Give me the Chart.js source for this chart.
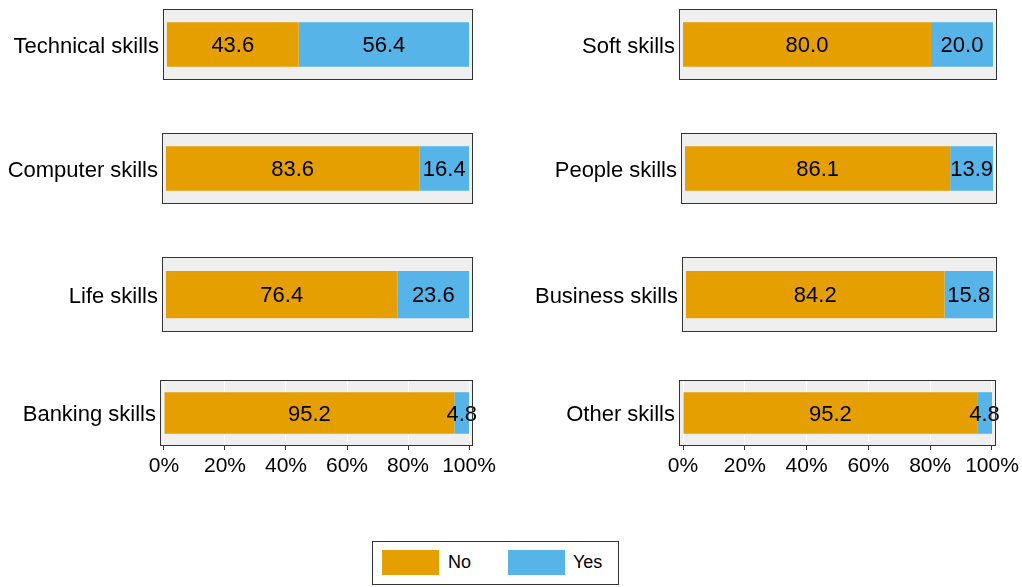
<!DOCTYPE html>
<html><head><meta charset="utf-8">
<script src="https://cdn.jsdelivr.net/npm/chart.js@4.4.1/dist/chart.umd.min.js"></script>
<style>
html,body{margin:0;padding:0;background:#fff}
body{width:1022px;height:587px;position:relative;overflow:hidden;font-family:"Liberation Sans",Arial,Helvetica,sans-serif}
canvas{position:absolute}
#legend{position:absolute;left:372px;top:541px;width:245px;height:42px;border:1px solid #333;box-sizing:content-box}
.sw{position:absolute;top:8px;width:57px;height:25px}
.lt{position:absolute;top:8px;height:25px;line-height:25px;font-size:18px;color:#000}
</style></head><body>
<div id="legend">
  <div class="sw" style="left:9px;background:#E69F00"></div><div class="lt" style="left:75px">No</div>
  <div class="sw" style="left:135px;background:#56B4E9"></div><div class="lt" style="left:200px">Yes</div>
</div>
<script>
// ---- data ----
const categories = ['Technical skills','Computer skills','Life skills','Banking skills','Soft skills','People skills','Business skills','Other skills'];
const noValues  = [43.6, 83.6, 76.4, 95.2, 80.0, 86.1, 84.2, 95.2];
const yesValues = [56.4, 16.4, 23.6,  4.8, 20.0, 13.9, 15.8,  4.8];
const seriesNames = ['No', 'Yes'];
const xTickValues = [0, 20, 40, 60, 80, 100];
const xTickLabels = ['0%', '20%', '40%', '60%', '80%', '100%'];

// ---- layout ----
const colors = ['#E69F00', '#56B4E9'];
const colLeft = [0, 500];
const panels = [
  {col:0, l:163, t:9,   r:473, b:80},
  {col:0, l:162, t:133, r:473, b:204},
  {col:0, l:162, t:257, r:473, b:332},
  {col:0, l:160, t:380, r:473, b:446, axis:true},
  {col:1, l:679, t:9,   r:997, b:80},
  {col:1, l:681, t:133, r:997, b:204},
  {col:1, l:682, t:257, r:997, b:332},
  {col:1, l:679, t:380, r:996, b:446, axis:true}
];
const FONT = '"Liberation Sans", Arial, Helvetica, sans-serif';
Chart.defaults.font.family = FONT;
Chart.defaults.color = '#000';

const panelPlugin = {
  id: 'panel',
  beforeDraw(chart) {
    const a = chart.chartArea, c = chart.ctx;
    c.save(); c.fillStyle = '#EFEFEF';
    c.fillRect(a.left, a.top, a.right - a.left, a.bottom - a.top);
    c.restore();
  },
  afterDatasetsDraw(chart) {
    const c = chart.ctx;
    c.save();
    c.font = '22px ' + FONT; c.fillStyle = '#000';
    c.textAlign = 'center'; c.textBaseline = 'middle';
    chart.data.datasets.forEach((ds, di) => {
      chart.getDatasetMeta(di).data.forEach((el, i) => {
        c.fillText(ds.data[i].toFixed(1), (el.x + el.base) / 2, el.y + 1.5);
      });
    });
    c.restore();
  },
  afterDraw(chart) {
    const a = chart.chartArea, c = chart.ctx;
    c.save(); c.strokeStyle = '#333'; c.lineWidth = 1;
    c.strokeRect(Math.round(a.left) + 0.5, Math.round(a.top) + 0.5, Math.round(a.right - a.left) - 1, Math.round(a.bottom - a.top) - 1);
    c.restore();
  }
};

const PADV = 20;
panels.forEach((p, i) => {
  const cl = colLeft[p.col];
  const padR = 30, axisH = 36;
  const padB = p.axis ? 2 : PADV;
  const cv = document.createElement('canvas');
  const w = p.r + padR - cl;
  const h = PADV + (p.b - p.t) + (p.axis ? axisH : 0) + padB;
  cv.width = w; cv.height = h;
  cv.style.left = cl + 'px'; cv.style.top = (p.t - PADV) + 'px';
  cv.style.width = w + 'px'; cv.style.height = h + 'px';
  document.body.appendChild(cv);
  new Chart(cv.getContext('2d'), {
    type: 'bar',
    data: {
      labels: [categories[i]],
      datasets: [
        {label: seriesNames[0], data: [noValues[i]], backgroundColor: colors[0], borderWidth: 0, barPercentage: 0.63, categoryPercentage: 1},
        {label: seriesNames[1], data: [yesValues[i]], backgroundColor: colors[1], borderWidth: 0, barPercentage: 0.63, categoryPercentage: 1}
      ]
    },
    options: {
      indexAxis: 'y',
      responsive: false,
      animation: false,
      devicePixelRatio: 1,
      layout: {padding: {top: PADV, bottom: padB, left: 0, right: padR}},
      plugins: {legend: {display: false}, tooltip: {enabled: false}},
      scales: {
        x: {
          type: 'linear', stacked: true, min: -1.3, max: 101.3,
          display: !!p.axis,
          afterBuildTicks: s => { s.ticks = xTickValues.map(v => ({value: v})); },
          afterFit: s => { if (p.axis) s.height = axisH; },
          ticks: {font: {size: 21}, color: '#000', padding: 4, maxRotation: 0, autoSkip: false,
                  callback: (v, idx) => xTickLabels[idx]},
          grid: {color: '#FFFFFF', lineWidth: 1, tickColor: '#333', tickLength: 4, drawOnChartArea: true},
          border: {display: false}
        },
        y: {
          type: 'category', stacked: true,
          afterFit: s => { s.width = p.l - cl; },
          ticks: {font: {size: 22}, color: '#000', padding: 4, labelOffset: 2},
          grid: {display: false, drawTicks: false, tickLength: 0},
          border: {display: false}
        }
      }
    },
    plugins: [panelPlugin]
  });
});
</script>
</body></html>
